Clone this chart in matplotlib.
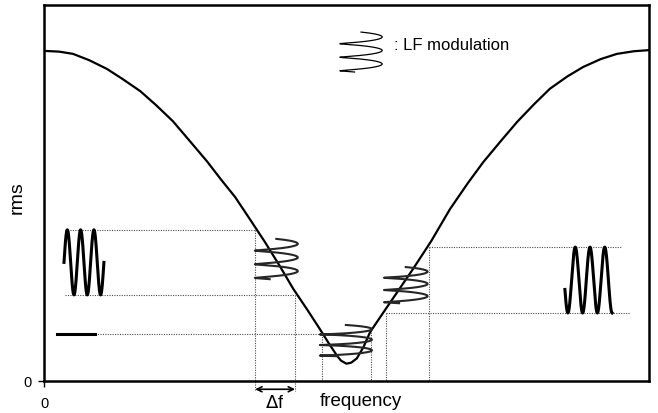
import numpy as np
import matplotlib.pyplot as plt

plt.rcParams['font.family'] = ['Liberation Sans', 'DejaVu Sans']

# resonance-type response curve (frequency, rms), both in relative units
freq_curve = [0.0, 0.025, 0.048, 0.075, 0.104, 0.130, 0.159, 0.185, 0.213, 0.240,
              0.269, 0.292, 0.316, 0.340, 0.365, 0.390, 0.412, 0.435, 0.456, 0.470,
              0.484, 0.491, 0.5, 0.508, 0.517, 0.528, 0.539, 0.560, 0.585, 0.610,
              0.640, 0.671, 0.700, 0.726, 0.755, 0.782, 0.810, 0.836, 0.865, 0.891,
              0.920, 0.947, 0.975, 1.0]
rms_curve = [0.878, 0.876, 0.870, 0.853, 0.830, 0.803, 0.771, 0.734, 0.691, 0.640,
             0.585, 0.537, 0.489, 0.431, 0.370, 0.305, 0.245, 0.190, 0.138, 0.102,
             0.068, 0.054, 0.046, 0.049, 0.060, 0.090, 0.130, 0.180, 0.239, 0.298,
             0.372, 0.457, 0.525, 0.582, 0.638, 0.689, 0.736, 0.777, 0.810, 0.835,
             0.856, 0.870, 0.877, 0.880]

# frequency bands swept by the LF modulation (left slope, bottom, right slope)
band_left = [0.349, 0.415]
band_bottom = [0.460, 0.540]
band_right = [0.565, 0.636]

# rms levels read back from the curve
rms_left = [0.402, 0.229]
rms_bottom = 0.125
rms_right = [0.356, 0.181]

# coil symbols: centre x, half-width, top y, bottom y
coils = {
    'left': (0.384, 0.0355, 0.378, 0.271),
    'bottom': (0.499, 0.043, 0.149, 0.066),
    'right': (0.598, 0.036, 0.303, 0.207),
    'legend': (0.524, 0.035, 0.928, 0.822),
}


def coil(cx, half_w, y_top, y_bot, turns=2.95):
    t = np.linspace(0, 2 * np.pi * turns, 400)
    x = cx + half_w * np.sin(t)
    y = y_top - (y_top - y_bot) * t / t[-1] + 0.004 * (np.cos(t) - 1)
    return x, y


def wave(x0, x1, lo, hi, phase0, phase1):
    ph = np.linspace(phase0, phase1, 300)
    x = x0 + (x1 - x0) * (ph - phase0) / (phase1 - phase0)
    y = (lo + hi) / 2 + (hi - lo) / 2 * np.sin(ph)
    return x, y


fig = plt.figure(figsize=(6.58, 4.14), dpi=100)
ax = fig.add_axes([0.0669, 0.0773, 0.9194, 0.9082])
ax.set_xlim(0, 1)
ax.set_ylim(0, 1)

ax.plot(freq_curve, rms_curve, color='black', lw=1.6, solid_joinstyle='round')

dot = dict(color='0.3', lw=0.8, linestyle=(0, (1, 1.2)), clip_on=False)

# horizontal guides
ax.plot([0.035, band_left[0]], [rms_left[0]] * 2, **dot)
ax.plot([0.035, band_left[1]], [rms_left[1]] * 2, **dot)
ax.plot([0.084, band_bottom[0]], [rms_bottom] * 2, **dot)
ax.plot([band_right[1], 0.955], [rms_right[0]] * 2, **dot)
ax.plot([band_right[0], 0.969], [rms_right[1]] * 2, **dot)

# vertical guides
ax.plot([band_left[0]] * 2, [rms_left[0], -0.027], **dot)
ax.plot([band_left[1]] * 2, [rms_left[1], -0.027], **dot)
ax.plot([band_bottom[0]] * 2, [rms_bottom, 0], **dot)
ax.plot([band_bottom[1]] * 2, [0.13, 0], **dot)
ax.plot([band_right[0]] * 2, [rms_right[1], 0], **dot)
ax.plot([band_right[1]] * 2, [rms_right[0], 0], **dot)

# modulation coils
for name, (cx, hw, yt, yb) in coils.items():
    x, y = coil(cx, hw, yt, yb)
    ax.plot(x, y, color='0.15' if name != 'legend' else 'black',
            lw=1.5 if name != 'legend' else 0.9)

# output signals
x, y = wave(0.033, 0.099, rms_left[1], rms_left[0], 0, 6 * np.pi)
ax.plot(x, y, color='black', lw=2.2)
x, y = wave(0.861, 0.939, rms_right[1], rms_right[0], -np.pi / 2 - 1.28, 5.5 * np.pi)
ax.plot(x, y, color='black', lw=2.2)
ax.plot([0.021, 0.084], [rms_bottom] * 2, color='black', lw=2.2)

ax.text(0.578, 0.895, ': LF modulation', fontsize=12, va='center', ha='left')

# delta f arrow
ax.annotate('', xy=(band_left[0], -0.022), xytext=(band_left[1], -0.022),
            arrowprops=dict(arrowstyle='<->', lw=1.2, mutation_scale=9,
                            shrinkA=0, shrinkB=0),
            annotation_clip=False)
ax.text(0.382, -0.058, r'$\Delta$f', fontsize=13, ha='center', va='center')

ax.set_xticks([0])
ax.set_yticks([0])
ax.tick_params(length=4, width=1, labelsize=10.5)
ax.tick_params(axis='x', pad=7)
ax.tick_params(axis='y', pad=5)

ax.set_ylabel('rms', fontsize=14)
ax.yaxis.set_label_coords(-0.045, 0.49)
ax.set_xlabel('frequency', fontsize=13.5)
ax.xaxis.set_label_coords(0.523, -0.053)
ax.xaxis.label.set_va('center')
ax.yaxis.label.set_va('center')

for s in ax.spines.values():
    s.set_linewidth(1.8)

fig.savefig('out.png', dpi=100)
